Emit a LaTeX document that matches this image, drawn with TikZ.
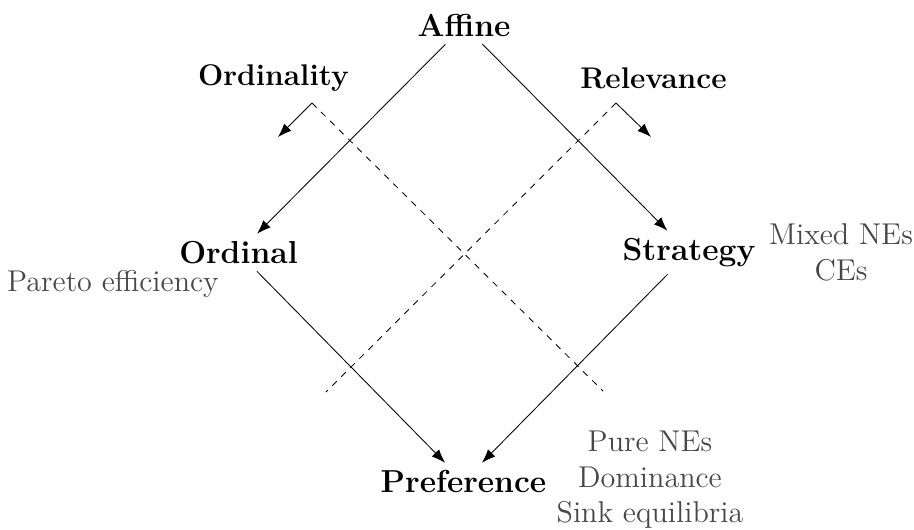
\documentclass[tikz,border=0pt]{standalone}
\usetikzlibrary{positioning, arrows.meta}
\begin{document}
\begin{tikzpicture}[-,>={Latex[length=6.5pt,width=4.8pt]},x=0.01658cm,y=-0.01658cm,
        lattice/.style={font=\fontsize{15}{18}\selectfont\bfseries},
        axis/.style={font=\fontsize{14.1}{17}\selectfont\bfseries},
        notion/.style={font=\fontsize{14.2}{16.7}\selectfont, text=black!72, align=center}]
        \useasboundingbox (0,0) rectangle (914,529);

        \node at (464,25.5) [lattice] (affine) {Affine};
        \node at (238.5,252.5) [lattice] (ordinal) {Ordinal};
        \node at (689,252.5) [lattice] (strategy) {Strategy};
        \node at (463.5,481.5) [lattice] (preference) {Preference};

        \node at (273.5,78) [axis] (ordinality) {Ordinality};
        \node at (653.5,78) [axis] (relevance) {Relevance};

        \coordinate (ord_top) at (312,103);
        \coordinate (ord_end) at (603,391);
        \coordinate (ord_tip) at (278,137);
        \coordinate (rel_top) at (616,103);
        \coordinate (rel_end) at (326,392);
        \coordinate (rel_tip) at (651,137);

        \node at (113,284) [notion] (pareto) {Pareto efficiency};
        \node at (841,252.5) [notion] (mixed) {Mixed NEs\\CEs};
        \node at (650,480) [notion] (pure) {Pure NEs\\Dominance\\Sink equilibria};

        \draw   (affine)    edge[->]    (ordinal)
                (affine)    edge[->]    (strategy)
                (ordinal)   edge[->]    (preference)
                (strategy)  edge[->]    (preference)

                (ord_top)   edge[dashed]    (ord_end)
                (rel_top)   edge[dashed]    (rel_end)
                (ord_top)   edge[->]        (ord_tip)
                (rel_top)   edge[->]        (rel_tip)
            ;
\end{tikzpicture}
\end{document}
